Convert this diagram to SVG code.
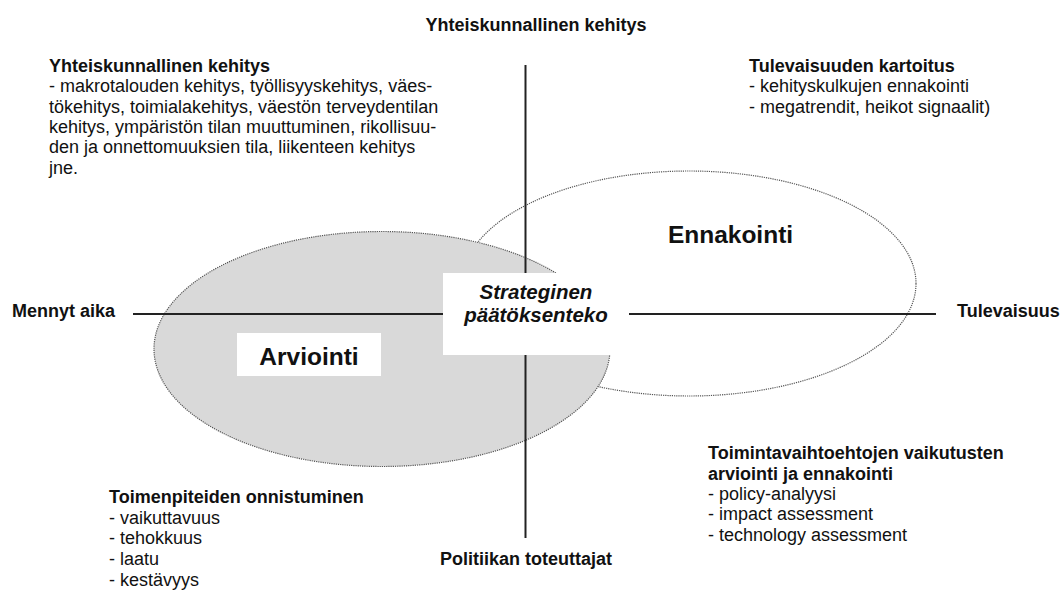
<svg xmlns="http://www.w3.org/2000/svg" width="1061" height="593" viewBox="0 0 1061 593">
<style>
.t{font-family:"Liberation Sans",Arial,sans-serif;font-size:18px;fill:#111}
.b{font-weight:bold}
.big{font-family:"Liberation Sans",Arial,sans-serif;font-size:24.5px;font-weight:bold;fill:#111}
.ctr{font-family:"Liberation Sans",Arial,sans-serif;font-size:20.5px;font-weight:bold;font-style:italic;fill:#111}
.ell{stroke:#555;stroke-width:1.2;stroke-dasharray:1.2 1}
.ax{stroke:#222;stroke-width:2;fill:none}
</style>
<rect width="1061" height="593" fill="#fff"/>
<g id="ennakointi">
<ellipse class="ell" cx="689" cy="283.5" rx="227" ry="112.5" fill="#fff"/>
</g>
<g id="arviointi">
<ellipse class="ell" cx="382" cy="349" rx="228" ry="117.5" fill="#d9d9d9"/>
</g>
<g id="connectors">
<line class="ax" x1="133" y1="314" x2="936" y2="314"/>
<line class="ax" x1="525.5" y1="65" x2="525.5" y2="538"/>
</g>
<g id="arviointi-label">
<rect x="237" y="333" width="144" height="43" fill="#fff"/>
<text class="big" x="309" y="365" text-anchor="middle">Arviointi</text>
</g>
<g id="ennakointi-label">
<text class="big" x="730.5" y="243" text-anchor="middle">Ennakointi</text>
</g>
<g id="strateginen">
<rect x="443" y="273" width="186" height="82" fill="#fff"/>
<text class="ctr" x="536" y="299" text-anchor="middle">Strateginen</text>
<text class="ctr" x="536" y="322" text-anchor="middle">päätöksenteko</text>
</g>
<g id="axis-labels">
<text class="t b" x="536" y="30.5" text-anchor="middle">Yhteiskunnallinen kehitys</text>
<text class="t b" x="526" y="565" text-anchor="middle">Politiikan toteuttajat</text>
<text class="t b" x="12" y="317">Mennyt aika</text>
<text class="t b" x="957" y="317">Tulevaisuus</text>
</g>
<g id="top-left-block">
<text class="t b" x="49" y="72">Yhteiskunnallinen kehitys</text>
<text class="t" x="49" y="92.3">- makrotalouden kehitys, työllisyyskehitys, väes-</text>
<text class="t" x="49" y="112.6">tökehitys, toimialakehitys, väestön terveydentilan</text>
<text class="t" x="49" y="132.9">kehitys, ympäristön tilan muuttuminen, rikollisuu-</text>
<text class="t" x="49" y="153.2">den ja onnettomuuksien tila, liikenteen kehitys</text>
<text class="t" x="49" y="173.5">jne.</text>
</g>
<g id="top-right-block">
<text class="t b" x="749" y="72">Tulevaisuuden kartoitus</text>
<text class="t" x="749" y="92.3">- kehityskulkujen ennakointi</text>
<text class="t" x="749" y="112.6">- megatrendit, heikot signaalit)</text>
</g>
<g id="bottom-left-block">
<text class="t b" x="109" y="503">Toimenpiteiden onnistuminen</text>
<text class="t" x="109" y="523.7">- vaikuttavuus</text>
<text class="t" x="109" y="544.4">- tehokkuus</text>
<text class="t" x="109" y="565.1">- laatu</text>
<text class="t" x="109" y="585.8">- kestävyys</text>
</g>
<g id="bottom-right-block">
<text class="t b" x="708" y="459.3">Toimintavaihtoehtojen vaikutusten</text>
<text class="t b" x="708" y="479.6">arviointi ja ennakointi</text>
<text class="t" x="708" y="499.9">- policy-analyysi</text>
<text class="t" x="708" y="520.2">- impact assessment</text>
<text class="t" x="708" y="540.5">- technology assessment</text>
</g>
</svg>
